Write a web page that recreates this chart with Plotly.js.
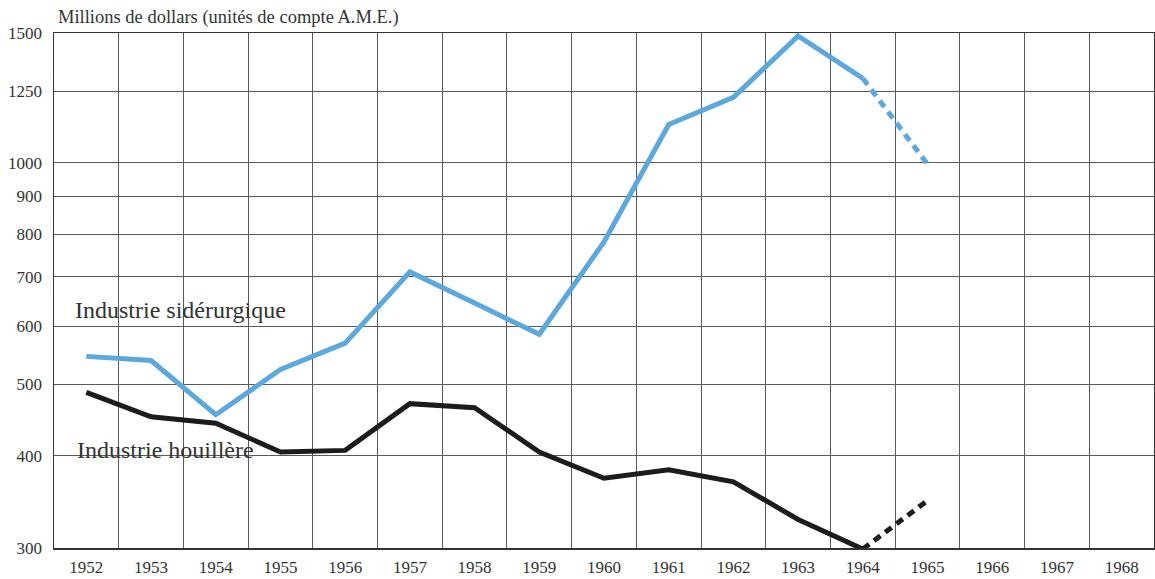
<!DOCTYPE html>
<html>
<head>
<meta charset="utf-8">
<script src="https://cdn.plot.ly/plotly-3.0.1.min.js"></script>
<style>
  html, body { margin: 0; padding: 0; background: #fff; }
  #chart { width: 1155px; height: 579px; }
</style>
</head>
<body>
<div id="chart"></div>
<script>
// Categories (years)
const years = ["1952","1953","1954","1955","1956","1957","1958","1959","1960","1961","1962","1963","1964","1965","1966","1967","1968"];

// Steel industry (Industrie sidérurgique), actual 1952-1964
const steelYears = ["1952","1953","1954","1955","1956","1957","1958","1959","1960","1961","1962","1963","1964"];
const steelValues = [546, 539, 455, 524, 569, 711, 645, 585, 781, 1127, 1227, 1486, 1302];
// Steel forecast 1964-1965
const steelForecastYears = ["1964","1965"];
const steelForecastValues = [1302, 995];

// Coal industry (Industrie houillère), actual 1952-1964
const coalYears = ["1952","1953","1954","1955","1956","1957","1958","1959","1960","1961","1962","1963","1964"];
const coalValues = [488, 452, 443, 405, 407, 471, 465, 405, 373, 383, 369, 328, 299];
// Coal forecast 1964-1965
const coalForecastYears = ["1964","1965"];
const coalForecastValues = [299, 348];

// Y tick values
const yTicks = [300, 400, 500, 600, 700, 800, 900, 1000, 1250, 1500];

const steelColor = "#5aa8de";
const coalColor = "#1c1c1c";
const serif = "Liberation Serif, DejaVu Serif, serif";

const traces = [
  {x: steelYears, y: steelValues, type: "scatter", mode: "lines",
   line: {color: steelColor, width: 5}, cliponaxis: false, hoverinfo: "skip"},
  {x: steelForecastYears, y: steelForecastValues, type: "scatter", mode: "lines",
   line: {color: steelColor, width: 5, dash: "8px,6px"}, cliponaxis: false, hoverinfo: "skip"},
  {x: coalYears, y: coalValues, type: "scatter", mode: "lines",
   line: {color: coalColor, width: 5}, cliponaxis: false, hoverinfo: "skip"},
  {x: coalForecastYears, y: coalForecastValues, type: "scatter", mode: "lines",
   line: {color: coalColor, width: 5, dash: "8px,6px"}, cliponaxis: false, hoverinfo: "skip"}
];

const layout = {
  width: 1155, height: 579,
  margin: {l: 54, r: 1, t: 33, b: 31},
  paper_bgcolor: "#ffffff",
  plot_bgcolor: "#ffffff",
  showlegend: false,
  font: {family: serif, color: "#333333", size: 17},
  xaxis: {
    type: "category",
    categoryorder: "array",
    categoryarray: years,
    tickvals: years,
    range: [-0.5, 16.5],
    tickson: "boundaries",
    showgrid: true,
    gridcolor: "#5a5a5a",
    gridwidth: 1,
    ticks: "",
    showline: true,
    linecolor: "#333333",
    linewidth: 1.5,
    mirror: true,
    zeroline: false,
    ticklabelstandoff: 3,
    tickfont: {family: serif, size: 17, color: "#333333"}
  },
  yaxis: {
    type: "log",
    range: [Math.log10(300), Math.log10(1500)],
    tickvals: yTicks,
    ticktext: yTicks.map(String),
    showgrid: true,
    gridcolor: "#5a5a5a",
    gridwidth: 1,
    ticks: "",
    showline: true,
    linecolor: "#333333",
    linewidth: 1.5,
    mirror: true,
    zeroline: false,
    ticklabelstandoff: 7,
    tickfont: {family: serif, size: 17, color: "#333333"}
  },
  annotations: [
    {text: "Millions de dollars (unités de compte A.M.E.)", xref: "paper", yref: "paper",
     x: 0.002, y: 1.0, xanchor: "left", yanchor: "bottom", yshift: 3, showarrow: false,
     font: {family: serif, size: 18.5, color: "#333333"}},
    {text: "Industrie sidérurgique", xref: "paper", yref: "paper",
     x: 0.017, y: 0.462, xanchor: "left", yanchor: "middle", showarrow: false,
     font: {family: serif, size: 24, color: "#333333"}},
    {text: "Industrie houillère", xref: "paper", yref: "paper",
     x: 0.019, y: 0.19, xanchor: "left", yanchor: "middle", showarrow: false,
     font: {family: serif, size: 24, color: "#333333"}}
  ]
};

Plotly.newPlot("chart", traces, layout, {staticPlot: true, displayModeBar: false});
</script>
</body>
</html>
